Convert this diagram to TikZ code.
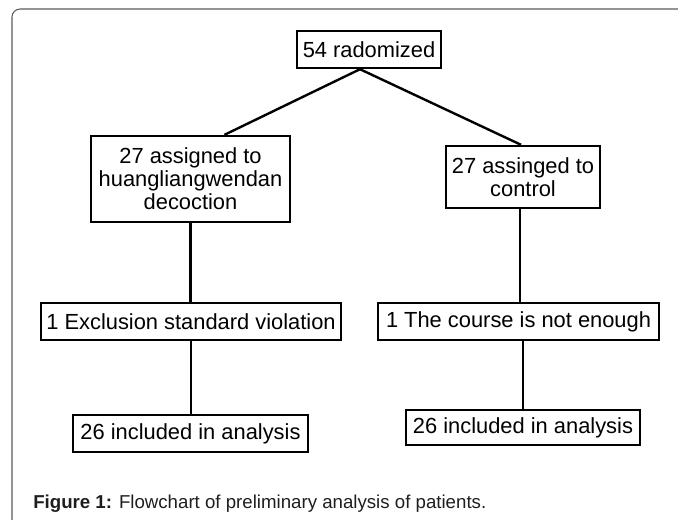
\documentclass[tikz,border=0pt]{standalone}
\usepackage{fontspec}
\setmainfont{Liberation Sans}
\usetikzlibrary{calc}
\tikzset{
  flowbox/.style={draw, line width=1.8pt, align=center, inner sep=0pt,
    font=\fontsize{16.4}{17.2}\selectfont, minimum height=#1*0.75pt},
  flowbox/.default=37,
  flowline/.style={line width=1.8pt}
}
\begin{document}
\begin{tikzpicture}[x=0.75pt,y=0.75pt,yscale=-1,xscale=1]
\clip (0,0) rectangle (678,519);
%Frame
\draw [color={rgb,255:red,90;green,90;blue,90}, line width=0.8pt, rounded corners=6pt] (12,9) rectangle (700,545);

% Boxes
\node [flowbox, minimum width=144*0.75pt] (rand) at (369,49.5) {54 radomized};
\node [flowbox=86, minimum width=199*0.75pt] (treat) at (190.5,179) {27 assigned to\\huangliangwendan\\decoction};
\node [flowbox=62, minimum width=154*0.75pt] (ctrl) at (523,177) {27 assinged to\\control};
\node [flowbox, minimum width=300*0.75pt] (excl) at (191,321.5) {1 Exclusion standard violation};
\node [flowbox, minimum width=281*0.75pt] (course) at (518.5,321.5) {1 The course is not enough};
\node [flowbox, minimum width=235*0.75pt] (inclA) at (190.5,433.5) {26 included in analysis};
\node [flowbox=35, minimum width=234*0.75pt] (inclB) at (523,427.5) {26 included in analysis};

% Connectors
\coordinate (split) at ($(rand.south)+(-9,0)$);
\draw [flowline] (split) -- ($(treat.north)+(34,0)$);
\draw [flowline] (split) -- ($(ctrl.north)+(-2,0)$);
\draw [flowline] (treat.south) -- (treat.south |- excl.north);
\draw [flowline] (excl.south) -- (excl.south |- inclA.north);
\draw [flowline] ($(ctrl.south)+(-3,0)$) -- ($(ctrl.south |- course.north)+(-3,0)$);
\draw [flowline] (inclB.north |- course.south) -- (inclB.north);

% Caption
\node [anchor=base west, inner sep=0pt, font=\fontsize{14}{16}\selectfont, color={rgb,255:red,30;green,30;blue,30}] (cap) at (33,508) {\textbf{Figure 1:} Flowchart of preliminary analysis of patients.};
\end{tikzpicture}
\end{document}
